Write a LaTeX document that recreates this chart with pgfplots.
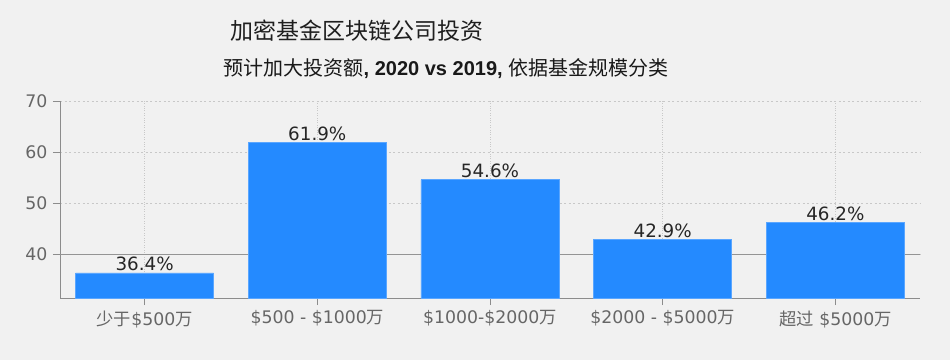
\documentclass[border=0pt]{standalone}
\usepackage{fontspec}
\setmainfont{DejaVu Sans}
\newfontfamily\cjk{Noto Sans CJK SC}
\newfontfamily\arial{Liberation Sans}
\usepackage{pgfplots}
\pgfplotsset{compat=1.18}
\definecolor{bg}{HTML}{F1F1F1}
\definecolor{barc}{HTML}{248AFF}
\definecolor{baredge}{HTML}{5AA6FF}
\definecolor{axc}{HTML}{8C8C8C}
\definecolor{tickc}{HTML}{666666}
\definecolor{gridc}{HTML}{C8C8C8}
\begin{document}
\begin{tikzpicture}[x=1pt,y=1pt]
\fill[bg] (0,0) rectangle (950,360);
\node[font=\cjk\fontsize{23}{26}\selectfont, text=black!88] at (357,329) {加密基金区块链公司投资};
\node[font=\fontsize{20}{23}\selectfont, text=black!90] at (446,291) {{\cjk 预计加大投资额}{\arial\bfseries, 2020 vs 2019, }{\cjk 依据基金规模分类}};
\begin{axis}[
  at={(60pt,62pt)}, anchor=south west,
  scale only axis, width=860pt, height=197pt,
  xmin=-0.49, xmax=4.49, ymin=31.5, ymax=70,
  enlargelimits=false,
  axis x line=bottom, axis y line=left,
  axis line style={-, draw=axc, line width=1pt},
  tick align=outside,
  major tick length=7pt,
  tick style={draw=axc, line width=0.9pt},
  xtick={0,1,2,3,4},
  xticklabels={{{\cjk 少于}\$500{\cjk 万}}, {\$500 - \$1000{\cjk 万}}, {\$1000-\$2000{\cjk 万}}, {\$2000 - \$5000{\cjk 万}}, {{\cjk 超过} \$5000{\cjk 万}}},
  ytick={40,50,60,70},
  extra y ticks={40},
  extra y tick labels={},
  extra y tick style={grid=major, y grid style={solid, draw=black!42, line width=1.2pt}, major tick length=0pt},
  /pgf/number format/assume math mode=true,
  ticklabel style={font=\fontsize{17.3}{20}\selectfont, text=tickc},
  xmajorgrids, ymajorgrids,
  x grid style={dotted, draw=gridc, line width=0.9pt},
  y grid style={dash pattern=on 2pt off 2.5pt, draw=gridc, line width=0.9pt},
  xticklabel style={yshift=-2pt},
  yticklabel style={xshift=-2pt},
]
\addplot[ybar, bar width=0.8, fill=barc, draw=baredge, line width=0.8pt,
  point meta=explicit symbolic,
  nodes near coords={\pgfplotspointmeta\%},
  every node near coord/.append style={font=\fontsize{18.3}{20}\selectfont, text=black!85, anchor=base, yshift=2pt, inner sep=0pt}]
coordinates {(0,36.4) [36.4] (1,61.9) [61.9] (2,54.6) [54.6] (3,42.9) [42.9] (4,46.2) [46.2]};
\end{axis}
\end{tikzpicture}
\end{document}
